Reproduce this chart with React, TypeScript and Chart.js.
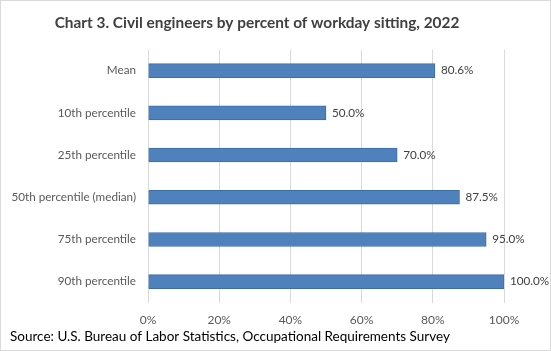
import React, { useEffect, useRef } from "react";
import { Chart, registerables } from "chart.js";

Chart.register(...registerables);

const categories = [
  "Mean",
  "10th percentile",
  "25th percentile",
  "50th percentile (median)",
  "75th percentile",
  "90th percentile",
];
const values = [80.6, 50.0, 70.0, 87.5, 95.0, 100.0];
const xTicks = [0, 20, 40, 60, 80, 100];
const titleText = "Chart 3. Civil engineers by percent of workday sitting, 2022";
const sourceText = "Source: U.S. Bureau of Labor Statistics, Occupational Requirements Survey";

const FONT = "Lato, 'Open Sans', sans-serif";

const bgPlugin = {
  id: "bgBorder",
  beforeDraw(chart: any) {
    const { ctx, width, height } = chart;
    ctx.save();
    ctx.fillStyle = "#ffffff";
    ctx.fillRect(0, 0, width, height);
    ctx.strokeStyle = "#d9d9d9";
    ctx.lineWidth = 1;
    ctx.strokeRect(0.5, 0.5, width - 1, height - 1);
    ctx.restore();
  },
};

const labelPlugin = {
  id: "barLabels",
  afterDatasetsDraw(chart: any) {
    const { ctx } = chart;
    const meta = chart.getDatasetMeta(0);
    ctx.save();
    ctx.font = `11.7px ${FONT}`;
    ctx.fillStyle = "#404040";
    ctx.textAlign = "left";
    ctx.textBaseline = "middle";
    meta.data.forEach((bar: any, i: number) => {
      const v = chart.data.datasets[0].data[i] as number;
      ctx.fillText(v.toFixed(1) + "%", bar.x + 6, bar.y);
    });
    ctx.restore();
  },
};

export default function App() {
  const ref = useRef<HTMLCanvasElement>(null);
  useEffect(() => {
    document.body.style.margin = "0";
    const chart = new Chart(ref.current!, {
      type: "bar",
      data: {
        labels: categories,
        datasets: [
          {
            data: values,
            backgroundColor: "#4f81bd",
            borderColor: "#3d6da5",
            borderWidth: 1,
            barThickness: 14,
          },
        ],
      },
      options: {
        indexAxis: "y",
        animation: false,
        responsive: false,
        maintainAspectRatio: false,
        layout: { padding: { left: 10, right: 47, top: 0, bottom: 0 } },
        plugins: {
          legend: { display: false },
          tooltip: { enabled: false },
          title: {
            display: true,
            text: titleText,
            color: "#404040",
            font: { family: FONT, size: 15.4, weight: "bold" },
            padding: { top: 14, bottom: 17 },
          },
          subtitle: {
            display: true,
            text: sourceText,
            position: "bottom",
            align: "start",
            color: "#000000",
            font: { family: FONT, size: 13.5 },
            padding: { top: 0, bottom: 6 },
          },
        },
        scales: {
          x: {
            min: 0,
            max: 100,
            afterBuildTicks(axis: any) {
              axis.ticks = xTicks.map((v) => ({ value: v }));
            },
            afterFit(axis: any) {
              axis.height = 26;
            },
            grid: { color: "#d9d9d9", drawTicks: false },
            border: { display: false },
            ticks: {
              padding: 10,
              color: "#595959",
              font: { family: FONT, size: 12 },
              callback: (v: any) => v + "%",
            },
          },
          y: {
            afterFit(axis: any) {
              axis.width = 138;
            },
            grid: { display: false, drawTicks: false, tickLength: 0 },
            border: { display: false },
            ticks: {
              padding: 12,
              color: "#595959",
              font: { family: FONT, size: 11.7 },
            },
          },
        },
      },
      plugins: [bgPlugin, labelPlugin],
    });
    return () => chart.destroy();
  }, []);
  return <canvas ref={ref} width={551} height={351} style={{ display: "block" }} />;
}
